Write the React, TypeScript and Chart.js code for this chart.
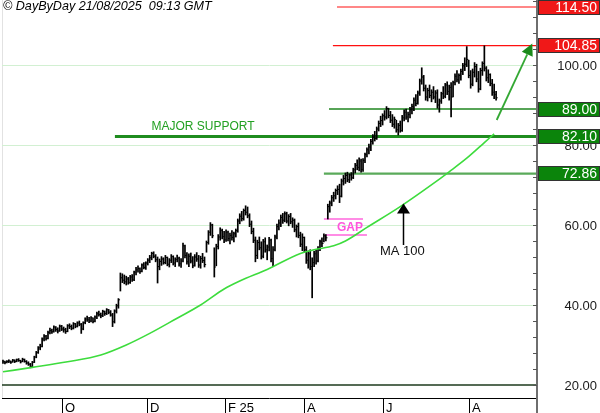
import React, { useEffect, useRef } from "react";
import { Chart, registerables } from "chart.js";

Chart.register(...registerables);

// ---- Daily price data (index = trading day) ----
const highs = [
  26.2, 26.0, 26.1, 26.3, 26.0, 26.4, 26.3, 26.5, 26.6, 26.2,
  26.7, 26.5, 26.1, 25.8, 25.4, 25.9, 27.2, 28.4, 29.6, 30.2,
  31.8, 32.6, 32.4, 33.5, 34.2, 34.0, 34.8, 34.6, 34.3, 35.0,
  34.9, 34.5, 34.2, 35.1, 35.3, 35.0, 35.6, 35.4, 35.8, 36.0,
  35.4, 35.8, 36.8, 37.2, 36.9, 37.1, 36.8, 37.3, 38.2, 38.5,
  38.0, 38.7, 38.5, 39.1, 38.9, 38.6, 37.9, 38.8, 40.2, 41.6,
  48.0, 47.8, 47.5, 47.2, 46.9, 47.4, 47.6, 48.5, 49.4, 49.8,
  49.3, 50.3, 50.6, 50.8, 51.6, 52.4, 53.2, 53.3, 52.6, 52.0,
  51.5, 52.1, 51.8, 52.4, 52.0, 51.6, 52.6, 52.3, 51.8, 52.5,
  52.0, 51.6, 55.5, 55.0, 53.1, 52.8, 53.0, 52.1, 52.6, 53.1,
  52.4, 52.2, 52.9, 52.0, 56.0, 58.6, 60.6, 60.2, 54.3, 55.2,
  57.6, 59.3, 59.0, 58.4, 58.8, 58.5, 58.0, 58.6, 58.2, 59.0,
  61.5, 62.8, 63.4, 64.0, 64.8, 64.5, 62.8, 61.0, 59.2, 57.0,
  56.2, 57.0, 55.8, 56.4, 56.8, 55.0, 56.9, 56.5, 54.6, 57.5,
  60.2, 61.3, 62.5, 62.9, 63.3, 63.2, 62.6, 62.9, 61.8, 61.5,
  60.0, 60.5, 58.2, 57.8, 57.0, 54.6, 53.5, 53.8, 51.8, 53.4,
  53.8, 54.6, 56.2, 56.8, 57.8, 57.6, 65.2, 66.0, 67.4, 68.2,
  69.0, 69.8, 70.2, 71.5, 72.4, 73.0, 73.2, 72.8, 73.1, 74.2,
  75.4, 76.3, 76.8, 76.5, 76.6, 78.0, 79.3, 80.2, 81.4, 82.6,
  83.4, 84.5, 86.0, 87.2, 87.8, 88.6, 89.6, 89.2, 88.4, 87.6,
  87.0, 86.2, 85.4, 86.0, 87.4, 88.8, 89.0, 88.2, 89.4, 90.2,
  91.8, 92.6, 93.5, 96.5, 99.3, 97.4, 95.0, 94.2, 95.0, 93.8,
  94.6, 93.6, 93.8, 91.5, 93.2, 94.6, 95.4, 95.8, 95.0, 95.6,
  96.0, 97.8, 98.6, 97.8, 99.0, 100.4, 101.8, 104.6, 101.2, 98.6,
  99.0, 100.6, 100.2, 98.4, 99.2, 100.8, 104.8, 99.6, 98.8, 97.8,
  96.4, 95.2, 93.4,
];

const lows = [
  25.4, 25.3, 25.5, 25.6, 25.4, 25.7, 25.6, 25.8, 25.9, 25.5,
  25.8, 25.7, 25.2, 24.9, 24.3, 24.5, 25.6, 26.8, 27.9, 28.8,
  29.5, 31.0, 31.2, 31.5, 32.8, 32.9, 33.2, 33.4, 33.0, 33.4,
  33.6, 33.2, 32.9, 33.3, 34.1, 33.8, 34.0, 34.3, 34.5, 34.8,
  32.9, 33.8, 35.3, 35.9, 35.6, 35.8, 35.5, 35.8, 36.6, 37.2,
  36.8, 37.1, 37.4, 37.6, 37.8, 37.2, 34.6, 35.5, 38.0, 39.2,
  43.5, 45.6, 45.3, 45.0, 45.2, 45.4, 45.9, 46.1, 47.5, 48.2,
  47.9, 48.3, 49.0, 48.9, 50.0, 50.6, 51.3, 51.8, 50.8, 45.5,
  48.8, 49.9, 50.2, 50.3, 49.8, 49.5, 50.6, 50.0, 49.6, 50.8,
  49.7, 49.4, 50.8, 51.8, 50.2, 49.6, 50.5, 49.3, 49.7, 50.9,
  49.4, 49.2, 50.6, 49.5, 53.2, 55.2, 57.4, 56.8, 47.0, 49.8,
  54.0, 56.2, 56.5, 55.6, 55.9, 56.0, 55.3, 56.2, 55.8, 57.0,
  58.2, 60.3, 61.0, 61.2, 62.5, 61.8, 59.6, 57.8, 55.6, 50.8,
  51.6, 53.8, 51.5, 51.8, 53.2, 51.3, 53.5, 50.8, 49.6, 53.5,
  56.5, 58.8, 59.6, 60.4, 60.8, 60.5, 59.8, 60.3, 59.4, 58.3,
  57.0, 56.8, 54.6, 53.6, 53.2, 50.4, 49.2, 48.8, 41.8, 49.6,
  50.2, 50.8, 53.6, 54.6, 55.8, 56.0, 61.5, 63.2, 64.8, 65.9,
  66.5, 67.6, 65.6, 67.0, 70.0, 70.4, 70.8, 70.6, 71.2, 71.6,
  73.0, 73.8, 73.5, 73.2, 73.4, 75.6, 77.0, 77.8, 78.6, 80.2,
  81.0, 81.4, 83.5, 84.6, 85.0, 86.2, 86.5, 86.8, 85.6, 84.6,
  84.2, 83.2, 82.5, 83.2, 83.4, 86.0, 86.4, 85.8, 86.8, 87.8,
  88.6, 89.8, 90.2, 92.4, 95.2, 93.5, 91.2, 91.0, 91.8, 90.8,
  91.5, 90.6, 89.2, 88.2, 90.4, 91.6, 91.8, 92.6, 91.2, 87.0,
  92.0, 95.0, 95.8, 95.4, 96.2, 97.6, 98.6, 99.6, 96.8, 94.2,
  94.8, 97.0, 95.8, 93.2, 93.8, 97.4, 98.5, 96.0, 95.6, 94.8,
  92.4, 91.6, 91.2,
];

const closes = [
  25.8, 25.6, 25.9, 26.0, 25.7, 26.2, 25.9, 26.3, 26.1, 25.8,
  26.4, 25.9, 25.5, 25.2, 24.6, 25.7, 27.0, 28.1, 29.3, 29.6,
  31.5, 32.2, 31.6, 33.1, 33.6, 33.3, 34.5, 33.9, 33.5, 34.7,
  34.0, 33.8, 33.4, 34.8, 34.6, 34.2, 35.3, 34.7, 35.5, 35.2,
  34.0, 35.6, 36.5, 36.3, 36.0, 36.8, 35.9, 37.0, 37.8, 37.6,
  37.3, 38.4, 37.9, 38.8, 38.2, 37.5, 35.8, 38.5, 39.8, 41.3,
  46.8, 46.2, 45.8, 46.5, 45.6, 47.0, 46.3, 48.2, 48.8, 49.1,
  48.4, 50.0, 49.4, 50.5, 51.2, 51.8, 52.9, 52.2, 51.3, 49.6,
  50.9, 51.5, 50.6, 51.9, 50.2, 51.2, 52.1, 50.5, 51.4, 51.7,
  50.3, 51.0, 54.8, 52.4, 50.8, 52.2, 51.0, 49.8, 52.0, 51.5,
  50.0, 51.6, 51.1, 50.1, 55.6, 58.2, 60.0, 57.3, 49.5, 54.6,
  57.0, 58.6, 57.1, 56.3, 58.2, 56.6, 57.4, 56.9, 57.8, 58.6,
  61.0, 62.2, 61.6, 63.6, 63.2, 62.3, 60.2, 58.4, 56.2, 52.4,
  55.6, 54.3, 52.2, 55.8, 53.8, 54.5, 56.2, 51.6, 53.8, 57.0,
  59.6, 60.5, 61.9, 61.2, 62.8, 61.0, 62.1, 60.8, 61.2, 58.8,
  59.6, 57.4, 55.2, 56.9, 53.8, 51.2, 52.8, 49.6, 50.6, 52.8,
  51.0, 54.1, 55.8, 55.4, 57.3, 56.8, 64.6, 65.5, 66.8, 67.3,
  68.6, 68.9, 67.2, 71.0, 71.6, 72.4, 71.3, 72.5, 71.8, 73.8,
  74.9, 74.4, 76.0, 73.9, 76.1, 77.6, 78.8, 79.5, 80.9, 82.0,
  81.6, 84.0, 85.4, 86.1, 87.3, 87.0, 89.1, 87.4, 86.2, 85.2,
  86.4, 83.8, 84.9, 83.6, 86.8, 88.2, 87.0, 87.6, 88.8, 89.6,
  91.2, 90.4, 93.0, 96.0, 97.0, 94.2, 92.0, 93.6, 92.4, 93.2,
  92.0, 93.0, 90.0, 91.0, 92.8, 92.2, 95.0, 93.4, 94.4, 92.0,
  95.6, 97.2, 96.3, 97.4, 98.4, 99.8, 100.2, 101.4, 97.4, 95.2,
  98.2, 99.6, 96.5, 94.0, 98.6, 100.4, 99.2, 96.8, 97.6, 95.4,
  93.2, 92.6, 91.8,
];

// ---- Moving average 100 (read at sampled days) ----
const maDays = [0, 15, 33, 50, 63, 75, 89, 101, 113, 121, 135, 152, 159, 169, 175, 186, 203, 220, 228, 237, 246, 251];
const maValues = [23.3, 24.4, 25.8, 27.5, 30.0, 32.9, 36.7, 40.0, 44.0, 46.0, 48.9, 52.9, 53.8, 54.8, 56.0, 59.4, 64.6, 70.4, 73.3, 76.7, 80.6, 82.8];

// ---- Axes ----
const X_MIN = -0.5;
const X_MAX = 272.9;
const Y_MIN = 16.75;
const Y_MAX = 116.25;
const xTickDays = [30, 73.5, 113.5, 154, 194, 238];
const xTickLabels = ["O", "D", "F 25", "A", "J", "A"];
const yLabelValues = [20, 40, 60, 80, 100];
const yMinorStep = 4;

// ---- Levels ----
const levelValues = [114.5, 104.85, 89.0, 82.1, 72.86];
const levelStartDays = [170.7, 168.6, 166.6, 57.2, 164];
const levelKinds = ["resistance", "resistance", "support", "major", "support2"];
const baseLineValue = 20;

// ---- Gap ----
const gapValues = [61.5, 57.5];
const gapStartDays = [164, 164.5];
const gapEndDays = [184, 186];

// ---- Texts / arrows (data coordinates) ----
const copyrightText = "\u00A9 DayByDay 21/08/2025  09:13 GMT";
const majorSupportLabel = { text: "MAJOR SUPPORT", day: 102.2, value: 84.5 };
const gapLabel = { text: "GAP", day: 177.3, value: 59.25 };
const maLabel = { text: "MA 100", day: 204.1, value: 53.4 };
const maArrow = { day: 204.4, tail: 55.0, tip: 65.4 };
const targetArrow = { fromDay: 252.3, fromValue: 86.25, toDay: 270.5, toValue: 105.4 };

const FONT = '"Liberation Sans", Arial, Helvetica, sans-serif';

const levelStyle: Record<string, { line: string; width: number; box: string }> = {
  resistance: { line: "#ff1010", width: 1.2, box: "#f01818" },
  support: { line: "#1f861f", width: 1.5, box: "#0b840b" },
  major: { line: "#1f8c1f", width: 3, box: "#0b840b" },
  support2: { line: "#5aaa5a", width: 2.2, box: "#0b840b" },
};

const overlayPlugin = {
  id: "overlay",
  beforeDatasetsDraw(chart: any) {
    const { ctx, chartArea: a, scales } = chart;
    const y = scales.y;
    ctx.save();
    ctx.strokeStyle = "#e2e2e2";
    ctx.lineWidth = 1;
    ctx.beginPath();
    ctx.moveTo(a.left + 0.5, a.top);
    ctx.lineTo(a.left + 0.5, a.bottom);
    ctx.stroke();
    ctx.strokeStyle = "#d2f0d2";
    for (const v of yLabelValues) {
      if (v === baseLineValue) continue;
      const py = Math.round(y.getPixelForValue(v)) + 0.5;
      ctx.beginPath();
      ctx.moveTo(a.left, py);
      ctx.lineTo(a.right, py);
      ctx.stroke();
    }
    ctx.restore();
  },
  afterDatasetsDraw(chart: any) {
    const { ctx, chartArea: a, scales, width: W, height: H } = chart;
    const x = scales.x;
    const y = scales.y;
    ctx.save();

    // bottom axis
    ctx.strokeStyle = "#000";
    ctx.lineWidth = 1;
    const by = Math.round(a.bottom) + 0.5;
    ctx.beginPath();
    ctx.moveTo(a.left, by);
    ctx.lineTo(a.right, by);
    ctx.stroke();
    ctx.font = `13px ${FONT}`;
    ctx.fillStyle = "#000";
    ctx.textAlign = "left";
    ctx.textBaseline = "alphabetic";
    xTickDays.forEach((d, k) => {
      const px = Math.round(x.getPixelForValue(d)) + 0.5;
      ctx.beginPath();
      ctx.moveTo(px, a.bottom);
      ctx.lineTo(px, H);
      ctx.stroke();
      ctx.fillText(xTickLabels[k], px + 2.5, H - 1);
    });

    // right axis
    ctx.strokeStyle = "#6e6e6e";
    ctx.lineWidth = 2;
    ctx.beginPath();
    ctx.moveTo(a.right, 0);
    ctx.lineTo(a.right, H);
    ctx.stroke();
    ctx.lineWidth = 1;
    ctx.strokeStyle = "#555";
    for (let v = yLabelValues[0]; v <= Y_MAX; v += yMinorStep) {
      const py = Math.round(y.getPixelForValue(v)) + 0.5;
      ctx.beginPath();
      ctx.moveTo(a.right - 4, py);
      ctx.lineTo(a.right, py);
      ctx.stroke();
    }
    ctx.font = `13px ${FONT}`;
    ctx.fillStyle = "#1a1a1a";
    ctx.textAlign = "right";
    ctx.textBaseline = "middle";
    for (const v of yLabelValues) {
      ctx.fillText(v.toFixed(2), W - 3, y.getPixelForValue(v) + 1);
    }

    // level boxes
    levelValues.forEach((v, k) => {
      const st = levelStyle[levelKinds[k]];
      const cy = y.getPixelForValue(v);
      const top = Math.round(cy - 7.5);
      ctx.fillStyle = st.box;
      ctx.fillRect(a.right + 1, top, W - a.right - 1, 15);
      ctx.strokeStyle = "#333";
      ctx.lineWidth = 1;
      ctx.strokeRect(a.right + 1.5, top + 0.5, W - a.right - 2, 14);
      ctx.fillStyle = "#fff";
      ctx.font = `14px ${FONT}`;
      ctx.textAlign = "right";
      ctx.textBaseline = "middle";
      ctx.fillText(v.toFixed(2), W - 3, top + 8);
    });

    // copyright
    ctx.fillStyle = "#000";
    ctx.font = `italic 12.6px ${FONT}`;
    ctx.textAlign = "left";
    ctx.textBaseline = "alphabetic";
    ctx.fillText(copyrightText, 3, 10);

    // labels
    ctx.textAlign = "center";
    ctx.textBaseline = "middle";
    ctx.fillStyle = "#22a022";
    ctx.font = `12px ${FONT}`;
    ctx.fillText(majorSupportLabel.text, x.getPixelForValue(majorSupportLabel.day), y.getPixelForValue(majorSupportLabel.value));
    ctx.fillStyle = "#ff55dd";
    ctx.font = `bold 12px ${FONT}`;
    ctx.fillText(gapLabel.text, x.getPixelForValue(gapLabel.day), y.getPixelForValue(gapLabel.value));
    ctx.fillStyle = "#111";
    ctx.font = `13px ${FONT}`;
    ctx.fillText(maLabel.text, x.getPixelForValue(maLabel.day), y.getPixelForValue(maLabel.value));

    // MA arrow
    const ax = Math.round(x.getPixelForValue(maArrow.day)) + 0.5;
    const tailY = y.getPixelForValue(maArrow.tail);
    const tipY = y.getPixelForValue(maArrow.tip);
    ctx.strokeStyle = "#000";
    ctx.lineWidth = 1.5;
    ctx.beginPath();
    ctx.moveTo(ax, tailY);
    ctx.lineTo(ax, tipY + 9);
    ctx.stroke();
    ctx.fillStyle = "#000";
    ctx.beginPath();
    ctx.moveTo(ax, tipY);
    ctx.lineTo(ax - 6.5, tipY + 10);
    ctx.lineTo(ax + 6.5, tipY + 10);
    ctx.closePath();
    ctx.fill();

    // target arrow
    const fx = x.getPixelForValue(targetArrow.fromDay);
    const fy = y.getPixelForValue(targetArrow.fromValue);
    const tx = x.getPixelForValue(targetArrow.toDay);
    const ty = y.getPixelForValue(targetArrow.toValue);
    const dx = tx - fx;
    const dy = ty - fy;
    const len = Math.hypot(dx, dy);
    const ux = dx / len;
    const uy = dy / len;
    const hl = 12;
    const hw = 6;
    ctx.strokeStyle = "#33a833";
    ctx.lineWidth = 1.8;
    ctx.beginPath();
    ctx.moveTo(fx, fy);
    ctx.lineTo(tx - ux * hl, ty - uy * hl);
    ctx.stroke();
    ctx.fillStyle = "#1a8a1a";
    ctx.beginPath();
    ctx.moveTo(tx, ty);
    ctx.lineTo(tx - ux * hl - uy * hw, ty - uy * hl + ux * hw);
    ctx.lineTo(tx - ux * hl + uy * hw, ty - uy * hl - ux * hw);
    ctx.closePath();
    ctx.fill();

    ctx.restore();
  },
};

export default function App() {
  const canvasRef = useRef<HTMLCanvasElement | null>(null);

  useEffect(() => {
    const canvas = canvasRef.current;
    if (!canvas) return;

    const barData = highs.map((h, i) => ({ x: i, y: [lows[i], h] }));
    const closeData = closes.map((c, i) => ({ x: i, y: c }));
    const maData = maDays.map((d, k) => ({ x: d, y: maValues[k] }));

    const levelDatasets = levelValues.map((v, k) => {
      const st = levelStyle[levelKinds[k]];
      return {
        type: "line" as const,
        data: [
          { x: levelStartDays[k], y: v },
          { x: X_MAX, y: v },
        ],
        borderColor: st.line,
        borderWidth: st.width,
        pointRadius: 0,
        order: 5,
      };
    });
    const gapDatasets = gapValues.map((v, k) => ({
      type: "line" as const,
      data: [
        { x: gapStartDays[k], y: v },
        { x: gapEndDays[k], y: v },
      ],
      borderColor: "#ff66dd",
      borderWidth: 1.5,
      pointRadius: 0,
      order: 5,
    }));

    const chart = new Chart(canvas, {
      type: "bar",
      data: {
        datasets: [
          ...levelDatasets,
          ...gapDatasets,
          {
            type: "line",
            data: [
              { x: X_MIN, y: baseLineValue },
              { x: X_MAX, y: baseLineValue },
            ],
            borderColor: "#1d3a1d",
            borderWidth: 1.5,
            pointRadius: 0,
            order: 5,
          },
          {
            type: "bar",
            data: barData as any,
            backgroundColor: "#000",
            borderWidth: 0,
            barThickness: 1,
            inflateAmount: 0.35,
            grouped: false,
            order: 3,
          } as any,
          {
            type: "line",
            data: closeData,
            showLine: false,
            pointStyle: "dash",
            pointRadius: 1.6,
            pointBorderColor: "#000",
            pointBorderWidth: 1,
            pointBackgroundColor: "#000",
            order: 2,
          } as any,
          {
            type: "line",
            data: maData,
            borderColor: "#3ddc3d",
            borderWidth: 1.6,
            pointRadius: 0,
            cubicInterpolationMode: "monotone",
            order: 1,
          },
        ] as any,
      },
      options: {
        animation: false,
        responsive: false,
        maintainAspectRatio: false,
        events: [],
        layout: { autoPadding: false, padding: { left: 2, right: 63, top: 0, bottom: 15 } },
        plugins: {
          legend: { display: false },
          tooltip: { enabled: false },
        },
        scales: {
          x: { type: "linear", min: X_MIN, max: X_MAX, display: false, offset: false },
          y: { type: "linear", min: Y_MIN, max: Y_MAX, display: false },
        },
      } as any,
      plugins: [overlayPlugin],
    });

    return () => chart.destroy();
  }, []);

  return (
    <div style={{ position: "fixed", left: 0, top: 0, width: 600, height: 413, background: "#fff" }}>
      <canvas ref={canvasRef} width={600} height={413} />
    </div>
  );
}
